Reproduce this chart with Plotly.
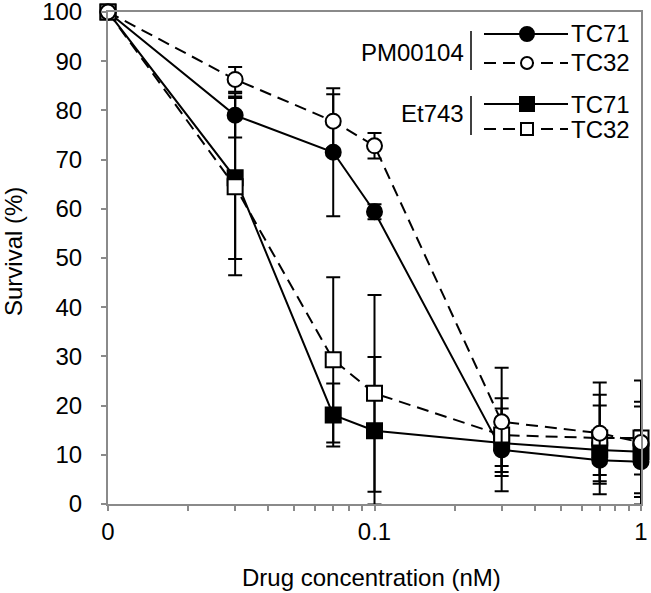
import plotly.graph_objects as go

# Drug concentration (nM); the "0" dose is drawn at 0.01 on the log axis
conc = [0.01, 0.03, 0.07, 0.1, 0.3, 0.7, 1]

pm_tc71 = [100, 79, 71.5, 59.4, 11, 8.9, 8.6]
pm_tc71_err = [0, 4.5, 13, 1.5, 8.4, 3, 6.4]
pm_tc32 = [100, 86.3, 77.8, 72.8, 16.7, 14.4, 12.5]
pm_tc32_err = [0, 2.5, 5.5, 2.6, 11, 10.3, 12.6]
et_tc71 = [100, 66.3, 18.1, 14.9, 12.4, 11, 10.6]
et_tc71_err = [0, 16.5, 6.4, 15, 4.7, 9, 9.2]
et_tc32 = [100, 64.5, 29.3, 22.5, 14, 13.4, 13.4]
et_tc32_err = [0, 18, 16.8, 20, 7.5, 8.8, 7.4]

x_tickvals = [0.01, 0.02, 0.03, 0.04, 0.05, 0.06, 0.07, 0.08, 0.09,
              0.1, 0.2, 0.3, 0.4, 0.5, 0.6, 0.7, 0.8, 0.9, 1]
x_ticktext = ["0", "", "", "", "", "", "", "", "",
              "0.1", "", "", "", "", "", "", "", "", "1"]
y_tickvals = [0, 10, 20, 30, 40, 50, 60, 70, 80, 90, 100]

FONT = "Liberation Sans, Arial, sans-serif"
GRAY = "#8a8a8a"
DASH = "12px,7px"

fig = go.Figure()


def add(y, err, symbol, filled, dash, name):
    fig.add_trace(go.Scatter(
        x=conc, y=y, name=name, mode="lines+markers",
        line=dict(color="black", width=2, dash=dash),
        marker=dict(symbol=symbol, size=15,
                    color="black" if filled else "white",
                    line=dict(color="black", width=2)),
        error_y=dict(type="data", array=err, visible=True, color="black",
                     thickness=2, width=7),
        cliponaxis=False, showlegend=False))


add(pm_tc71, pm_tc71_err, "circle", True, "solid", "PM00104 TC71")
add(et_tc71, et_tc71_err, "square", True, "solid", "Et743 TC71")
add(et_tc32, et_tc32_err, "square", False, DASH, "Et743 TC32")
add(pm_tc32, pm_tc32_err, "circle", False, DASH, "PM00104 TC32")

# ---- custom legend and titles (pixel layout converted to paper coords) ----
L, R, T, B = 108, 10, 12, 89
W, H = 651, 593
pw, ph = W - L - R, H - T - B


def px(x):
    return (x - L) / pw


def py(y):
    return (H - B - y) / ph


shapes = []
annotations = []
rows = [
    (34, "circle", True, "solid", "TC71"),
    (63, "circle", False, DASH, "TC32"),
    (104, "square", True, "solid", "TC71"),
    (129, "square", False, DASH, "TC32"),
]
for yy, sym, filled, dash, label in rows:
    shapes.append(dict(type="line", xref="paper", yref="paper",
                       x0=px(484), x1=px(568), y0=py(yy), y1=py(yy),
                       line=dict(color="black", width=2, dash=dash)))
    s = 7 if filled else 6
    shapes.append(dict(type="circle" if sym == "circle" else "rect",
                       xref="paper", yref="paper",
                       xsizemode="pixel", ysizemode="pixel",
                       xanchor=px(527), yanchor=py(yy),
                       x0=-s, x1=s, y0=-s, y1=s,
                       fillcolor="black" if filled else "white",
                       line=dict(color="black", width=2)))
    annotations.append(dict(x=px(569), y=py(yy), xref="paper", yref="paper",
                            text=label, showarrow=False, xanchor="left",
                            yanchor="middle",
                            font=dict(size=24, color="black", family=FONT)))

for yc, y0, y1, label in [(52, 31, 70, "PM00104"), (114, 96, 135, "Et743")]:
    shapes.append(dict(type="line", xref="paper", yref="paper",
                       x0=px(471), x1=px(471), y0=py(y0), y1=py(y1),
                       line=dict(color="black", width=1.5)))
    annotations.append(dict(x=px(466), y=py(yc), xref="paper", yref="paper",
                            text=label, showarrow=False, xanchor="right",
                            yanchor="middle",
                            font=dict(size=24, color="black", family=FONT)))

# axis titles
annotations.append(dict(x=px(13), y=py(252), xref="paper", yref="paper",
                        text="Survival (%)", showarrow=False, textangle=-90,
                        xanchor="center", yanchor="middle",
                        font=dict(size=24, color="black", family=FONT)))
annotations.append(dict(x=px(371), y=py(577), xref="paper", yref="paper",
                        text="Drug concentration (nM)", showarrow=False,
                        xanchor="center", yanchor="middle",
                        font=dict(size=24, color="black", family=FONT)))

fig.update_layout(
    width=W, height=H,
    margin=dict(l=L, r=R, t=T, b=B, autoexpand=False),
    paper_bgcolor="white", plot_bgcolor="white",
    font=dict(family=FONT, size=24, color="black"),
    shapes=shapes, annotations=annotations,
    xaxis=dict(type="log", range=[-2, 0], tickvals=x_tickvals,
               ticktext=x_ticktext, ticks="outside", ticklen=5,
               tickcolor=GRAY, tickwidth=1.5, showline=True,
               linecolor=GRAY, linewidth=2, mirror=True, showgrid=False,
               zeroline=False, tickfont=dict(size=24),
               ticklabeloverflow="allow", automargin=False),
    yaxis=dict(range=[0, 100], tickvals=y_tickvals, ticks="outside",
               ticklen=5, tickcolor=GRAY, tickwidth=1.5, showline=True,
               linecolor=GRAY, linewidth=2, mirror=True, showgrid=False,
               zeroline=False, tickfont=dict(size=24),
               ticklabelstandoff=14, ticklabeloverflow="allow",
               automargin=False),
)

# remove the browser's default 8px page margin so the figure sits at (0, 0)
fig.write_html("out.html",
               config={"displayModeBar": False},
               post_script="document.body.style.margin='0';"
                           "document.body.style.overflow='hidden';")
